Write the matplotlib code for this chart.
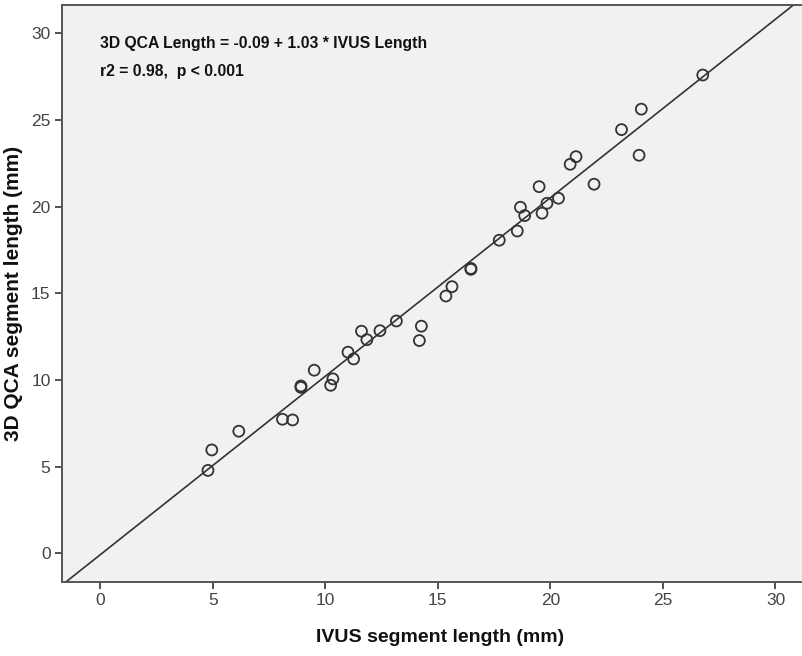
import matplotlib
matplotlib.use("Agg")
import matplotlib.pyplot as plt
import numpy as np

# IVUS vs 3D QCA segment lengths (mm)
ivus_len = [4.79, 4.96, 6.16, 8.10, 8.55, 8.92, 8.92, 9.51, 10.24, 10.34,
            11.01, 11.26, 11.61, 11.85, 12.43, 13.16, 14.18, 14.27, 15.36, 15.63,
            16.47, 16.47, 17.73, 18.53, 18.67, 18.86, 19.50, 19.63, 19.85, 20.36,
            20.88, 21.14, 21.94, 23.16, 23.94, 24.04, 26.77]
qca_len = [4.78, 5.96, 7.04, 7.73, 7.69, 9.65, 9.57, 10.56, 9.69, 10.06,
           11.60, 11.21, 12.81, 12.32, 12.84, 13.40, 12.27, 13.10, 14.84, 15.38,
           16.38, 16.43, 18.06, 18.59, 19.96, 19.48, 21.15, 19.62, 20.19, 20.48,
           22.44, 22.88, 21.29, 24.44, 22.96, 25.62, 27.59]

intercept = -0.09
slope = 1.03
ticks = [0, 5, 10, 15, 20, 25, 30]

font = "Liberation Sans"

fig = plt.figure(figsize=(8.03, 6.56), dpi=100)
ax = fig.add_axes([0.0776, 0.1133, 0.94, 0.8791])
ax.set_facecolor("#f0f1f1")

xlim = (-1.68, 31.85)
ylim = (-1.64, 31.63)
ax.set_xlim(*xlim)
ax.set_ylim(*ylim)

# fitted regression line across the full plotting area
xx = np.array(xlim)
ax.plot(xx, intercept + slope * xx, color="#333333", lw=1.2, zorder=2)

ax.scatter(ivus_len, qca_len, s=62, facecolors="none", edgecolors="#333333",
           linewidths=1.3, zorder=3)

ax.set_xticks(ticks)
ax.set_yticks(ticks)
ax.tick_params(direction="out", length=5, width=1.3, color="#444444",
               labelsize=12.5, labelcolor="#444444")
for lab in ax.get_xticklabels() + ax.get_yticklabels():
    lab.set_fontfamily(font)
for s in ax.spines.values():
    s.set_color("#555555")
    s.set_linewidth(1.4)

ax.set_xlabel("IVUS segment length (mm)", fontsize=14, fontweight="bold",
              fontfamily=font, color="#111111", labelpad=15)
ax.set_ylabel("3D QCA segment length (mm)", fontsize=15, fontweight="bold",
              fontfamily=font, color="#111111")
ax.yaxis.set_label_coords(-0.052, 0.5)

ax.text(0.0, 29.39, "3D QCA Length = -0.09 + 1.03 * IVUS Length", fontsize=11.3,
        fontweight="bold", fontfamily=font, color="#111111",
        va="center", ha="left")
ax.text(0.0, 27.77, "r2 = 0.98,  p < 0.001", fontsize=11.3,
        fontweight="bold", fontfamily=font, color="#111111",
        va="center", ha="left")

fig.savefig("out.png", dpi=100, facecolor="white")
